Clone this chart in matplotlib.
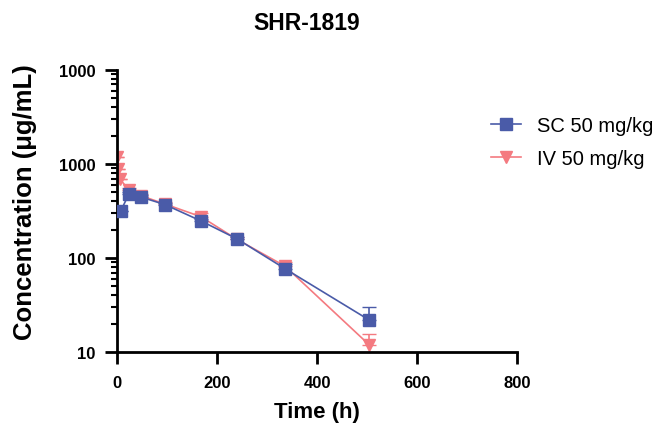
import numpy as np
import matplotlib.pyplot as plt
from matplotlib.lines import Line2D
from matplotlib.ticker import LogLocator, NullFormatter

plt.rcParams['font.family'] = ['Liberation Sans', 'DejaVu Sans']

# data
sc_t = [8, 24, 48, 96, 168, 240, 336, 504]
sc_c = [320, 480, 445, 370, 248, 160, 77, 22]
sc_err = [0, 20, 20, 15, 15, 8, 10, 8]

iv_t = [0.5, 2, 6, 24, 48, 96, 168, 240, 336, 504]
iv_c = [1200, 880, 690, 530, 460, 375, 275, 158, 82, 12]
iv_err = [0, 0, 0, 25, 20, 15, 25, 8, 8, 3.5]

yticks = [10, 100, 1000, 10000]
ytick_labels = ['10', '100', '1000', '1000']
xticks = [0, 200, 400, 600, 800]

sc_col = '#4A5BA8'
iv_col = '#F47A80'

fig = plt.figure(figsize=(6.57, 4.27), dpi=100)
ax = fig.add_axes([0.178, 0.173, 0.609, 0.661])

ax.errorbar(iv_t, iv_c, yerr=[np.zeros(len(iv_err)), iv_err], color=iv_col, lw=1.2,
            marker='v', ms=8, capsize=5, elinewidth=1.2, zorder=2)
ax.errorbar(sc_t, sc_c, yerr=[np.zeros(len(sc_err)), sc_err], color=sc_col, lw=1.2,
            marker='s', ms=8, capsize=5, elinewidth=1.2, zorder=3)

ax.set_yscale('log')
ax.set_ylim(10, 10000)
ax.set_xlim(0, 800)
ax.set_yticks(yticks, ytick_labels)
ax.yaxis.set_minor_locator(LogLocator(base=10, subs=np.arange(2, 10)))
ax.yaxis.set_minor_formatter(NullFormatter())
ax.set_xticks(xticks)

for s in ['top', 'right']:
    ax.spines[s].set_visible(False)
for s in ['left', 'bottom']:
    ax.spines[s].set_linewidth(2)
ax.tick_params(axis='both', which='major', direction='out', length=8.5, width=2, labelsize=12)
ax.tick_params(axis='x', which='major', pad=8)
ax.tick_params(axis='y', which='major', pad=7)
ax.tick_params(axis='y', which='minor', direction='out', length=4.5, width=1.5)
for lab in ax.get_xticklabels() + ax.get_yticklabels():
    lab.set_fontweight('bold')

ax.set_xlabel('Time (h)', fontsize=16, fontweight='bold', labelpad=8)
ax.set_ylabel('Concentration (μg/mL)', fontsize=18.5, fontweight='bold')
ax.yaxis.set_label_coords(-0.2, 0.535)
fig.text(0.467, 0.945, 'SHR-1819', fontsize=16.5, fontweight='bold', ha='center', va='center')

handles = [Line2D([], [], color=sc_col, lw=1.2, marker='s', ms=8),
           Line2D([], [], color=iv_col, lw=1.2, marker='v', ms=8)]
labels = ['SC 50 mg/kg', 'IV 50 mg/kg']
fig.legend(handles, labels, loc='upper left', bbox_to_anchor=(0.747, 0.726),
           frameon=False, fontsize=14.5, handlelength=1.5, handletextpad=0.8,
           labelspacing=0.7, borderpad=0, borderaxespad=0)

fig.savefig('out.png', dpi=100)
